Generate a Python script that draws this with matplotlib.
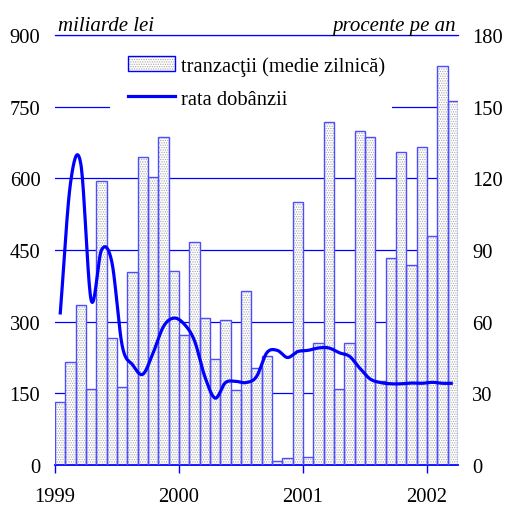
import matplotlib
matplotlib.use("Agg")
import matplotlib.pyplot as plt
import numpy as np
from matplotlib.patches import Rectangle
from matplotlib.lines import Line2D

plt.rcParams['font.family'] = ['Liberation Serif', 'DejaVu Serif']
plt.rcParams['hatch.linewidth'] = 0.6

# ---- data (monthly, Jan 1999 - Mar 2002) ----
transactions = [132, 216, 335, 160, 594, 265, 163, 404, 645, 603, 686, 406,
                272, 467, 307, 221, 303, 158, 365, 203, 228, 8, 15, 550,
                17, 255, 718, 159, 255, 700, 686, 176, 433, 655, 419, 665,
                480, 835, 762]
rate = [63, 118, 126, 69, 90, 85, 50, 42, 38, 47, 58, 61.5,
        59, 52, 37, 28, 34.5, 35, 34.5, 37, 47, 48, 45, 47.5,
        48, 49, 49, 47, 45.5, 40.5, 36, 34.5, 34, 34, 34.3, 34.2,
        34.6, 34.2, 34.2]
year_labels = ['1999', '2000', '2001', '2002']
left_ticks = [0, 150, 300, 450, 600, 750, 900]
right_ticks = [0, 30, 60, 90, 120, 150, 180]
label_bars = 'tranzacţii (medie zilnică)'
label_line = 'rata dobânzii'
unit_left = 'miliarde lei'
unit_right = 'procente pe an'

BLUE = '#0000ff'
EDGE = '#4d4dff'
FS = 14.8

fig = plt.figure(figsize=(5.05, 5.06), dpi=100)
ax = fig.add_axes([55/505, 1-466/506, 403/505, 430/506])
ax2 = ax.twinx()

n = len(transactions)
x = np.arange(n) + 0.5

# gridlines
for v in left_ticks[1:]:
    ax.axhline(v, color=BLUE, lw=0.9, zorder=0.5)
# white patch hiding grid behind legend
ax.add_patch(Rectangle(((110-55)/403, 0.80), (392-110)/403, 0.09,
                       transform=ax.transAxes, facecolor='white',
                       edgecolor='none', zorder=0.8))

# bars: hatched fill layer then blue outline layer
ax.bar(x, transactions, width=1.0, color='white', edgecolor='#a8a8a8',
       hatch='.......', linewidth=0, zorder=2)
ax.bar(x, transactions, width=1.0, fill=False, edgecolor=EDGE,
       linewidth=1.0, zorder=3)

# smooth line (Catmull-Rom through monthly values)
def catmull(xs, ys, m=20):
    xs = np.asarray(xs, float); ys = np.asarray(ys, float)
    px = np.concatenate([[2*xs[0]-xs[1]], xs, [2*xs[-1]-xs[-2]]])
    py = np.concatenate([[2*ys[0]-ys[1]], ys, [2*ys[-1]-ys[-2]]])
    ox, oy = [], []
    for i in range(1, len(px)-2):
        t = np.linspace(0, 1, m, endpoint=False)
        for arr, out in ((px, ox), (py, oy)):
            p0, p1, p2, p3 = arr[i-1], arr[i], arr[i+1], arr[i+2]
            out.extend(0.5*((2*p1) + (-p0+p2)*t + (2*p0-5*p1+4*p2-p3)*t**2
                            + (-p0+3*p1-3*p2+p3)*t**3))
    ox.append(xs[-1]); oy.append(ys[-1])
    return np.array(ox), np.array(oy)

sx, sy = catmull(x, rate)
ax2.plot(sx, sy, color=BLUE, lw=2.3, solid_capstyle='butt', zorder=5)

# axes setup
ax.set_xlim(0, n)
ax.set_ylim(0, 900)
ax2.set_ylim(0, 180)
ax.set_yticks(left_ticks)
ax2.set_yticks(right_ticks)
ax.set_xticks([0, 12, 24, 36])
ax.set_xticklabels(year_labels)
for a in (ax, ax2):
    for s in ('left', 'right'):
        a.spines[s].set_visible(False)
    a.spines['top'].set_color(BLUE)
    a.spines['top'].set_linewidth(0.9)
    a.spines['bottom'].set_color(BLUE)
    a.spines['bottom'].set_linewidth(1.3)
ax2.spines['bottom'].set_visible(False)
ax2.spines['top'].set_visible(False)
ax.tick_params(axis='y', length=0, pad=10.5, labelsize=FS)
ax2.tick_params(axis='y', length=0, pad=10, labelsize=FS)
ax.tick_params(axis='x', length=6, width=1.0, color=BLUE, pad=10, labelsize=FS)
ax.set_zorder(1)
ax2.set_zorder(2)
ax.patch.set_visible(True)
ax2.patch.set_visible(False)

fig.text(58/505, 1-31/506, unit_left, style='italic', fontsize=15,
         ha='left', va='baseline')
fig.text(456/505, 1-31/506, unit_right, style='italic', fontsize=15,
         ha='right', va='baseline')

# legend
h_fill = Rectangle((0, 0), 1, 1, facecolor='white', edgecolor='#a8a8a8',
                   hatch='.......', linewidth=0)
h_edge = Rectangle((0, 0), 1, 1, fill=False, edgecolor=BLUE, linewidth=1.0)
h_line = Line2D([], [], color=BLUE, lw=2.3)
leg = ax2.legend([(h_fill, h_edge), h_line], [label_bars, label_line],
                 loc='upper left', bbox_to_anchor=(128/505, 1-57/506),
                 bbox_transform=fig.transFigure, frameon=False,
                 fontsize=FS, borderpad=0, borderaxespad=0,
                 handlelength=2.3, handleheight=0.68, handletextpad=0.28,
                 labelspacing=0.66)

fig.savefig('out.png', dpi=100)
